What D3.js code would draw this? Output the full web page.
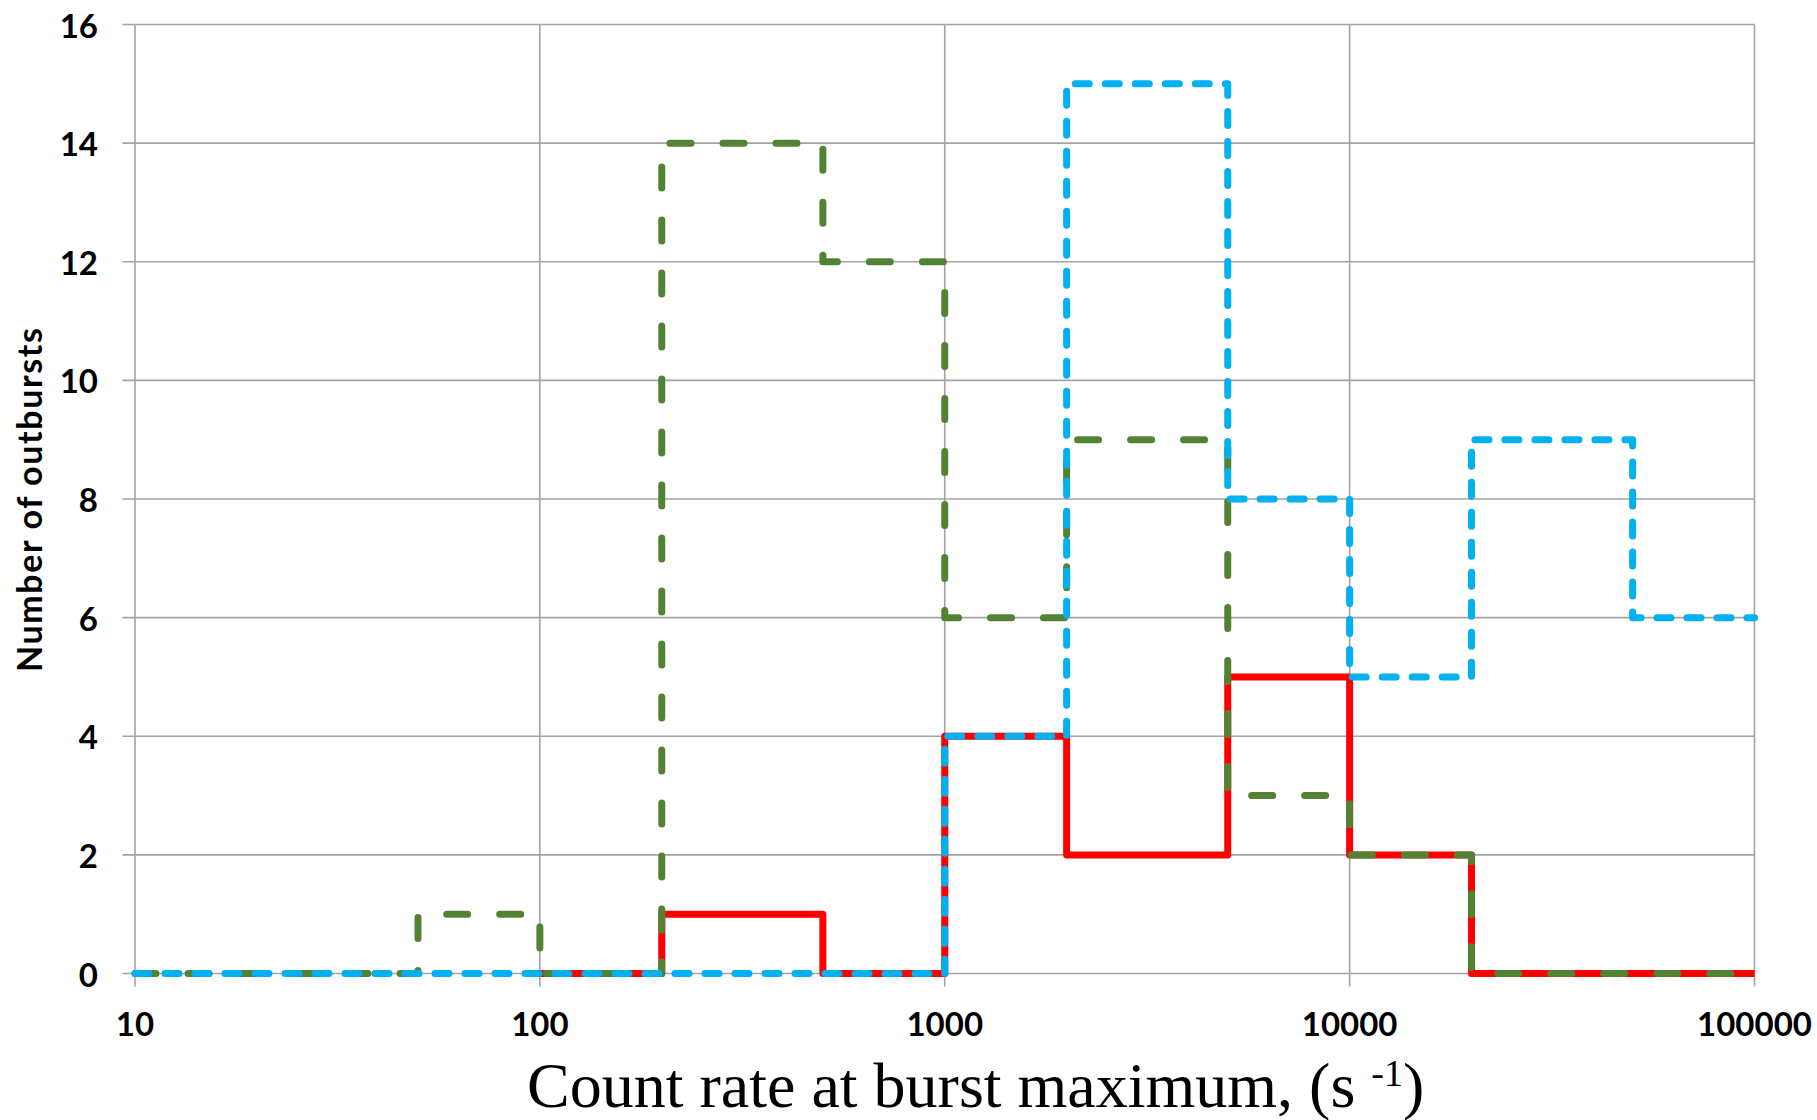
<!DOCTYPE html>
<html>
<head>
<meta charset="utf-8">
<script src="https://cdn.jsdelivr.net/npm/d3@7"></script>
<style>
  html, body { margin: 0; padding: 0; background: #fff; }
  svg { display: block; }
</style>
</head>
<body>
<svg id="chart" width="1817" height="1120"></svg>
<script>
// Histogram bin edges (count rate, s^-1) on a 1-2-5 log grid
const binEdges = [10, 20, 50, 100, 200, 500, 1000, 2000, 5000, 10000, 20000, 50000, 100000];

// Number of outbursts per bin for each sample (null = no data in that bin)
const redCounts   = [null, null, null, 0, 1, 0, 4, 2, 5, 2, 0, 0];
const greenCounts = [0, 0, 1, 0, 14, 12, 6, 9, 3, 2, 0, 0];
const blueCounts  = [0, 0, 0, 0, 0, 0, 4, 15, 8, 5, 9, 6];

// Axis ticks
const xTicks = [10, 100, 1000, 10000, 100000];
const yTicks = [0, 2, 4, 6, 8, 10, 12, 14, 16];

const svg = d3.select("#chart");

const plotLeft = 135, plotRight = 1754.5, plotTop = 24.5, plotBottom = 973.5;
const x = d3.scaleLog().domain([10, 100000]).range([plotLeft, plotRight]);
const y = d3.scaleLinear().domain([0, 16]).range([plotBottom, plotTop]);

const gridColor = "#a3a3a3";

// Horizontal gridlines with outside tick marks
svg.append("g").selectAll("line").data(yTicks).join("line")
  .attr("x1", plotLeft - 12.5).attr("x2", plotRight)
  .attr("y1", d => y(d)).attr("y2", d => y(d))
  .attr("stroke", gridColor).attr("stroke-width", 1.6);

// Vertical gridlines at each decade with outside tick marks
svg.append("g").selectAll("line").data(xTicks).join("line")
  .attr("x1", d => x(d)).attr("x2", d => x(d))
  .attr("y1", plotTop).attr("y2", plotBottom + 13)
  .attr("stroke", gridColor).attr("stroke-width", 1.6);

// Tick labels
const tickFont = "Lato, 'Open Sans', sans-serif";
svg.append("g").selectAll("text").data(yTicks).join("text")
  .attr("x", 98).attr("y", d => y(d))
  .attr("text-anchor", "end").attr("dominant-baseline", "central")
  .attr("font-family", tickFont).attr("font-weight", 700).attr("font-size", 33)
  .attr("fill", "#000")
  .text(d => d);

svg.append("g").selectAll("text").data(xTicks).join("text")
  .attr("x", d => x(d)).attr("y", 1036)
  .attr("text-anchor", "middle")
  .attr("font-family", tickFont).attr("font-weight", 700).attr("font-size", 33)
  .attr("fill", "#000")
  .text(d => d);

// Step outline for each histogram
function stepPoints(counts) {
  const pts = [];
  counts.forEach((c, i) => { if (c !== null) pts.push([binEdges[i], c]); });
  const last = counts[counts.length - 1];
  pts.push([binEdges[binEdges.length - 1], last]);
  return pts;
}
const line = d3.line().x(d => x(d[0])).y(d => y(d[1])).curve(d3.curveStepAfter);

const series = [
  { counts: redCounts,   color: "#ff0000", dash: null },
  { counts: greenCounts, color: "#548235", dash: "21,32" },
  { counts: blueCounts,  color: "#00b0f0", dash: "14,16" }
];

svg.append("g").selectAll("path").data(series).join("path")
  .attr("d", s => line(stepPoints(s.counts)))
  .attr("fill", "none")
  .attr("stroke", s => s.color)
  .attr("stroke-width", 7)
  .attr("stroke-linejoin", "round")
  .attr("stroke-linecap", s => s.dash ? "round" : "butt")
  .attr("stroke-dasharray", s => s.dash);

// Y axis title
svg.append("text")
  .attr("transform", "translate(42,500) rotate(-90)")
  .attr("text-anchor", "middle")
  .attr("font-family", tickFont).attr("font-weight", 700).attr("font-size", 34)
  .attr("textLength", 344).attr("lengthAdjust", "spacing")
  .attr("fill", "#000")
  .text("Number of outbursts");

// X axis title with superscript
const xt = svg.append("text")
  .attr("x", 527).attr("y", 1107)
  .attr("font-family", "'Liberation Serif', 'Times New Roman', serif")
  .attr("font-size", 64).attr("fill", "#000");
xt.append("tspan").text("Count rate at burst maximum, (s ");
xt.append("tspan").attr("font-size", 38).attr("dy", -21).text("-1");
xt.append("tspan").attr("dy", 21).text(")");
</script>
</body>
</html>
